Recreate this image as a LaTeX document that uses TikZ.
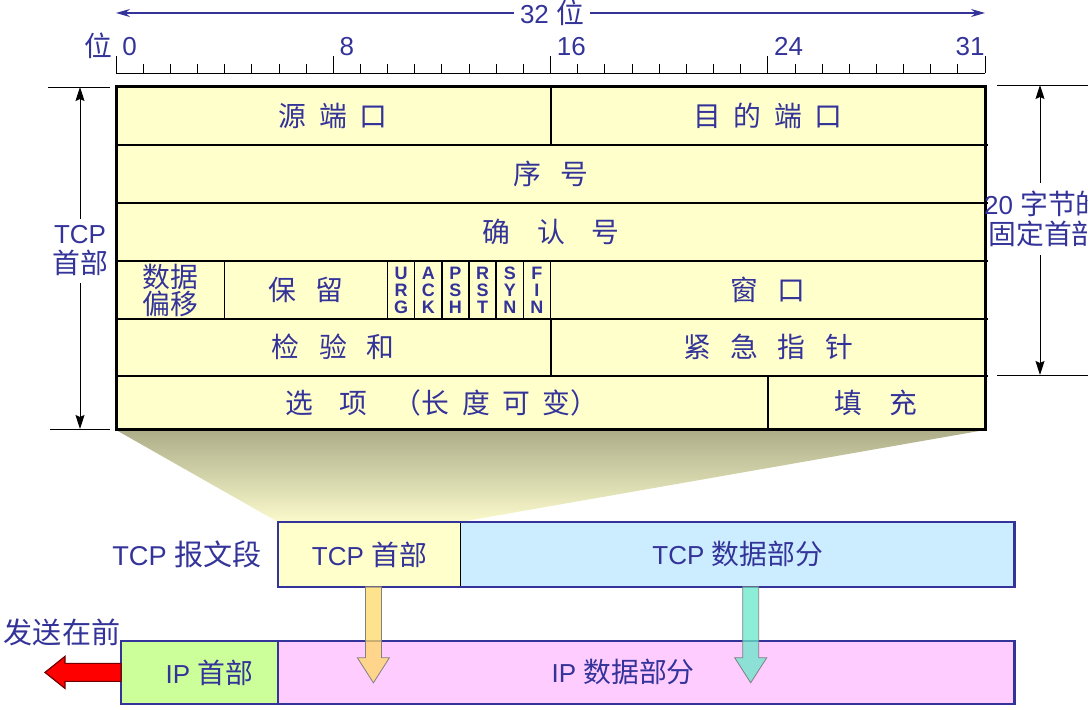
\documentclass[tikz,border=0pt]{standalone}
\usepackage{fontspec}
\setmainfont{Liberation Sans}
\newfontfamily\cjk[Scale=1.07]{Noto Sans CJK SC}
\usepackage{tikz}
\usetikzlibrary{positioning, arrows.meta}

\definecolor{navy}{HTML}{333399}
\definecolor{hdryellow}{HTML}{FFFFCC}
\definecolor{datblue}{HTML}{CCECFF}
\definecolor{ipgreen}{HTML}{CCFF99}
\definecolor{ippink}{HTML}{FFCCFF}
\definecolor{funneltop}{HTML}{ADAD89}
\definecolor{funnelbot}{HTML}{FAFACC}
\definecolor{hdrarrow}{HTML}{FFD966}
\definecolor{datarrow}{HTML}{66E8C8}

\newcommand{\sepa}{\hspace{0.45em}}
\newcommand{\sepb}{\hspace{0.7em}}
\newcommand{\sepc}{\hspace{0.95em}}

\tikzset{
  cell/.style={text=navy, font=\cjk\fontsize{13}{13.5}\selectfont, inner sep=0pt, align=center},
  lbl/.style={text=navy, font=\fontsize{13}{15}\selectfont, inner sep=1pt, align=center},
  biglbl/.style={lbl, font=\fontsize{13.6}{15}\selectfont},
  flag/.style={text=navy, font=\bfseries\fontsize{9}{8.5}\selectfont, inner sep=0pt, align=center},
  seg/.style={text=navy, font=\fontsize{13}{15}\selectfont, inner sep=0pt, minimum height=32pt},
  dimarrow/.style={-{Stealth[length=7pt, width=4.5pt, inset=1pt]}, black, line width=0.5pt},
  bitarrow/.style={-{Stealth[length=7pt, width=4pt]}, navy, line width=0.6pt},
  blockdown/.style={draw=gray, line width=0.4pt, fill opacity=0.75}
}

\begin{document}
\begin{tikzpicture}[x=0.5pt, y=-0.5pt]
        \useasboundingbox (0,0) rectangle (1088,710);

        \shade[top color=funneltop, bottom color=funnelbot] (116,430) -- (985,430) -- (460,522) -- (278,522) -- cycle;

        \node[lbl, inner sep=3pt] (width) at (552,13) {32 {\cjk 位}};
        \coordinate (wl) at (116,13);
        \coordinate (wr) at (985,13);
        \draw[bitarrow] (width.west) -- (wl);
        \draw[bitarrow] (width.east) -- (wr);

        \node[cell] (unit) at (98,46) {位};
        \draw (116,73) -- (985,73);
        \foreach \i in {0,...,32}
        \draw ({116+\i*27.156},73) -- ++(0,-9);
        \foreach \i in {0, 8, 16, 24}
        \draw ({116+\i*27.156},73) -- ++(0,-17) node[lbl, anchor=south west, xshift=2pt, yshift=-1pt] (b\i) {\i};
        \draw (985,73) -- ++(0,-17) node[lbl, anchor=south east, xshift=1pt, yshift=-1pt] (b31) {31};

        \fill[hdryellow] (116,87) rectangle (985,430);
        \foreach \y in {145, 203, 261, 319, 376}
        \draw[line width=0.7pt] (116,\y) -- (988,\y);
        \draw[line width=0.7pt] (551,87) -- (551,145) (551,319) -- (551,376) (768,376) -- (768,430);
        \foreach \i in {4, 10, 11, ..., 16}
        \draw[line width=0.7pt] ({116+\i*27.156},261) -- ++(0,58);
        \draw[line width=1.5pt] (116,87) rectangle (985,430);

        \node[cell] (srcport) at (333,116) {源\sepa 端\sepa 口};
        \node[cell] (dstport) at (768,116) {目\sepa 的\sepa 端\sepa 口};
        \node[cell] (seqno) at (551,174) {序\sepb 号};
        \node[cell] (ackno) at (551,232) {确\sepc 认\sepc 号};
        \node[cell] (offset) at (170,290) {数据\\偏移};
        \node[cell] (reserved) at (306,290) {保\sepb 留};
        \foreach \f [count=\k from 0] in {{U\\R\\G}, {A\\C\\K}, {P\\S\\H}, {R\\S\\T}, {S\\Y\\N}, {F\\I\\N}}
        \node[flag] (flag\k) at ({116+(10.5+\k)*27.156},290) {\f};
        \node[cell] (window) at (768,290) {窗\sepb 口};
        \node[cell] (checksum) at (333,347) {检\sepb 验\sepb 和};
        \node[cell] (urgent) at (768,347) {紧\sepb 急\sepb 指\sepb 针};
        \node[cell] (options) at (442,403) {选\sepc 项\sepc （长\sepa 度\sepa 可\sepa 变）};
        \node[cell] (padding) at (876,403) {填\sepc 充};

        \draw (48,87) -- (110,87) (50,429) -- (110,429);
        \node[lbl, inner sep=3pt] (hdrlen) at (80,251) {TCP\\{\cjk 首部}};
        \coordinate (hl-top) at (80,87);
        \coordinate (hl-bot) at (80,429);
        \draw[dimarrow] (hdrlen.north) -- (hl-top);
        \draw[dimarrow] (hdrlen.south) -- (hl-bot);

        \draw (997,85) -- (1088,85) (997,375) -- (1088,375);
        \node[lbl, inner sep=4pt] (fixlen) at (1044,219) {20 {\cjk 字节的}\\{\cjk 固定首部}};
        \coordinate (fl-top) at (1040,85);
        \coordinate (fl-bot) at (1040,375);
        \draw[dimarrow] (fixlen.north -| fl-top) -- (fl-top);
        \draw[dimarrow] (fixlen.south -| fl-bot) -- (fl-bot);

        \node[seg, fill=hdryellow, minimum width=91pt, anchor=north west] (tcphdr) at (278,522) {TCP {\cjk 首部}};
        \node[seg, fill=datblue, minimum width=276.5pt, anchor=west] (tcpdata) at (tcphdr.east) {TCP {\cjk 数据部分}};
        \draw[line width=0.6pt] (tcphdr.north east) -- (tcphdr.south east);
        \draw[navy, line width=1.2pt] (tcphdr.north west) rectangle (tcpdata.south east);
        \node[biglbl, left=7pt of tcphdr] (seglbl) {TCP {\cjk 报文段}};

        \node[seg, fill=ipgreen, minimum width=78pt, minimum height=31pt, anchor=north west] (iphdr) at (121,641) {};
        \node[seg, fill=ippink, minimum width=368pt, minimum height=31pt, anchor=west] (ipdata) at (iphdr.east) {};
        \draw[navy, line width=1.2pt] (iphdr.north west) rectangle (ipdata.south east) (iphdr.north east) -- (iphdr.south east);
        \node[lbl] (iphdrtxt) at ([xshift=5pt]iphdr.center) {IP {\cjk 首部}};
        \node[lbl] (ipdatatxt) at ([xshift=-11.5pt]ipdata.center) {IP {\cjk 数据部分}};

        \node[biglbl] (sendfirst) at (62,632) {{\cjk 发送在前}};
        \draw[fill=red, draw=red!45!black, line width=0.6pt] (iphdr.west) ++(0,-9) -- ++(-56,0) -- ++(0,-7) -- ++(-20,16) -- ++(20,16) -- ++(0,-7) -- ++(56,0) -- cycle;

        \draw[blockdown, fill=hdrarrow] ([xshift=2pt]tcphdr.south) ++(-8,0) -- ++(0,71) -- ++(-8,0) -- ++(16,25) -- ++(16,-25) -- ++(-8,0) -- ++(0,-71) -- cycle;
        \draw[blockdown, fill=datarrow] ([xshift=6.5pt]tcpdata.south) ++(-8,0) -- ++(0,71) -- ++(-8,0) -- ++(16,25) -- ++(16,-25) -- ++(-8,0) -- ++(0,-71) -- cycle;

    \end{tikzpicture}
\end{document}
